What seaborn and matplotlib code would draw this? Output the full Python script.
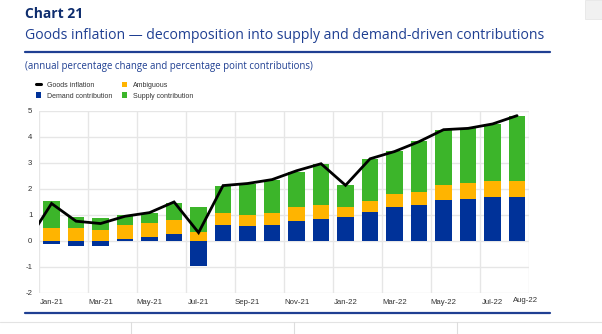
import numpy as np
import pandas as pd
import matplotlib
matplotlib.use("Agg")
import matplotlib.pyplot as plt
import matplotlib.transforms as mtransforms
from matplotlib.lines import Line2D
from matplotlib.patches import Patch, Rectangle
import seaborn as sns

# ---------------- data ----------------
months = ["Jan-21", "Feb-21", "Mar-21", "Apr-21", "May-21", "Jun-21", "Jul-21",
          "Aug-21", "Sep-21", "Oct-21", "Nov-21", "Dec-21", "Jan-22", "Feb-22",
          "Mar-22", "Apr-22", "May-22", "Jun-22", "Jul-22", "Aug-22"]
demand = [-0.11, -0.20, -0.20, 0.06, 0.13, 0.25, -0.99, 0.60, 0.56, 0.61,
          0.77, 0.83, 0.92, 1.11, 1.31, 1.38, 1.57, 1.59, 1.68, 1.67]
ambiguous = [0.50, 0.47, 0.42, 0.54, 0.54, 0.54, 0.33, 0.47, 0.41, 0.45,
             0.52, 0.55, 0.38, 0.43, 0.47, 0.48, 0.58, 0.63, 0.63, 0.64]
supply = [1.02, 0.46, 0.45, 0.37, 0.40, 0.66, 0.98, 1.05, 1.21, 1.29,
          1.34, 1.57, 0.83, 1.61, 1.68, 1.99, 2.11, 2.10, 2.17, 2.49]
# goods inflation line (first value = Dec-20, only partly visible)
goods_months = ["Dec-20"] + months
goods = [-0.05, 1.43, 0.75, 0.66, 0.94, 1.08, 1.49, 0.31, 2.12, 2.20, 2.35,
         2.69, 2.96, 2.13, 3.15, 3.43, 3.81, 4.27, 4.32, 4.49, 4.81]
tick_labels = ["Jan-21", "Mar-21", "May-21", "Jul-21", "Sep-21", "Nov-21",
               "Jan-22", "Mar-22", "May-22", "Jul-22", "Aug-22"]
y_ticks = [-2, -1, 0, 1, 2, 3, 4, 5]

# ---------------- style ----------------
sns.set_theme(style="white")
plt.rcParams["font.family"] = ["Liberation Sans", "DejaVu Sans"]

C_DEM = "#003299"
C_AMB = "#FFB400"
C_SUP = "#3CB52A"
C_NAVY = "#0E2D6E"
C_BLUE = "#1F3F92"

W, H = 602, 334
fig = plt.figure(figsize=(W / 100, H / 100), dpi=100)
fig.patch.set_facecolor("white")

ax = fig.add_axes([39.3 / W, 1 - 292.7 / H, 490 / W, 182 / H])

dem = np.array(demand)
amb = np.array(ambiguous)
sup = np.array(supply)
pos_base = np.maximum(dem, 0)

df = pd.DataFrame({"month": months, "demand": dem, "ambiguous": amb, "supply": sup})

bw = 0.67
sns.barplot(data=df, x="month", y="demand", color=C_DEM, width=bw, errorbar=None,
            saturation=1, linewidth=0, ax=ax, zorder=2)
sns.barplot(data=df, x="month", y="ambiguous", color=C_AMB, width=bw, errorbar=None,
            saturation=1, linewidth=0, bottom=pos_base, ax=ax, zorder=2)
sns.barplot(data=df, x="month", y="supply", color=C_SUP, width=bw, errorbar=None,
            saturation=1, linewidth=0, bottom=pos_base + amb, ax=ax, zorder=2)

line_x = np.arange(len(goods_months)) - 1
sns.lineplot(x=line_x, y=goods, color="black", linewidth=2.0, ax=ax, zorder=3,
             solid_joinstyle="miter")

ax.set_xlim(-0.5, len(months) - 0.5)
ax.set_ylim(-2, 5)
ax.set_xlabel("")
ax.set_ylabel("")
for s in ax.spines.values():
    s.set_visible(False)

# grid
ax.set_yticks(y_ticks)
ax.set_yticklabels([str(v) for v in y_ticks])
ax.yaxis.grid(True, color="#E6E6E6", linewidth=1.0, zorder=0)
ax.set_xticks(np.arange(-0.5, len(months), 2), minor=True)
ax.xaxis.grid(True, which="minor", color="#E6E6E6", linewidth=1.0, zorder=0)
ax.xaxis.grid(False, which="major")
ax.set_axisbelow(True)

tick_pos = [float(months.index(m)) for m in tick_labels]
tick_pos[-1] += 0.35
ax.set_xticks(tick_pos)
ax.set_xticklabels(tick_labels)
ax.tick_params(axis="x", which="both", length=0, pad=4.5, labelsize=5.6, colors="#333333")
ax.tick_params(axis="y", length=0, pad=5, labelsize=5.6, colors="#333333")
lbl = ax.get_xticklabels()[-1]
lbl.set_transform(lbl.get_transform() + mtransforms.ScaledTranslation(0, 1.5 / 72, fig.dpi_scale_trans))

# legend
handles = [
    Line2D([0], [0], color="black", linewidth=2.2),
    Patch(facecolor=C_DEM, edgecolor="none"),
    Patch(facecolor=C_AMB, edgecolor="none"),
    Patch(facecolor=C_SUP, edgecolor="none"),
]
labels = ["Goods inflation", "Demand contribution", "Ambiguous", "Supply contribution"]
fig.legend(handles, labels, ncol=2, loc="upper left",
           bbox_to_anchor=(36 / W, 1 - 81.5 / H), frameon=False,
           prop={"family": "Liberation Sans", "size": 5.0},
           handlelength=0.75, handleheight=0.9, handletextpad=0.8,
           columnspacing=1.4, labelspacing=0.5, borderpad=0, borderaxespad=0,
           labelcolor="#333333")

# titles
fig.text(25 / W, 1 - 13.5 / H, "Chart 21", family=["Open Sans", "DejaVu Sans"],
         weight="bold", size=10.0, color=C_NAVY, va="center", ha="left")
fig.text(25 / W, 1 - 35.5 / H,
         "Goods inflation \u2014 decomposition into supply and demand-driven contributions",
         family=["Open Sans", "DejaVu Sans"], size=10.05, color=C_BLUE, va="center", ha="left")
fig.text(25 / W, 1 - 67 / H,
         "(annual percentage change and percentage point contributions)",
         family=["Open Sans", "DejaVu Sans"], size=6.9, color=C_BLUE, va="center", ha="left")

# rules and page furniture
fig.add_artist(Line2D([25 / W, 550 / W], [1 - 52 / H, 1 - 52 / H], color=C_BLUE, linewidth=1.6))
fig.add_artist(Line2D([25 / W, 550 / W], [1 - 313 / H, 1 - 313 / H], color=C_BLUE, linewidth=1.6))
fig.add_artist(Line2D([0, 1], [1 - 321.5 / H, 1 - 321.5 / H], color="#E3E3E3", linewidth=0.8))
for xv in (131, 294, 457):
    fig.add_artist(Line2D([xv / W, xv / W], [0, 1 - 322 / H], color="#DDDDDD", linewidth=0.8))
fig.add_artist(Rectangle((585 / W, 1 - 19 / H), 17 / W, 19 / H, facecolor="#F1F1F1",
                         edgecolor="#E4E4E4", linewidth=0.5, transform=fig.transFigure))

fig.savefig("out.png", dpi=100)
